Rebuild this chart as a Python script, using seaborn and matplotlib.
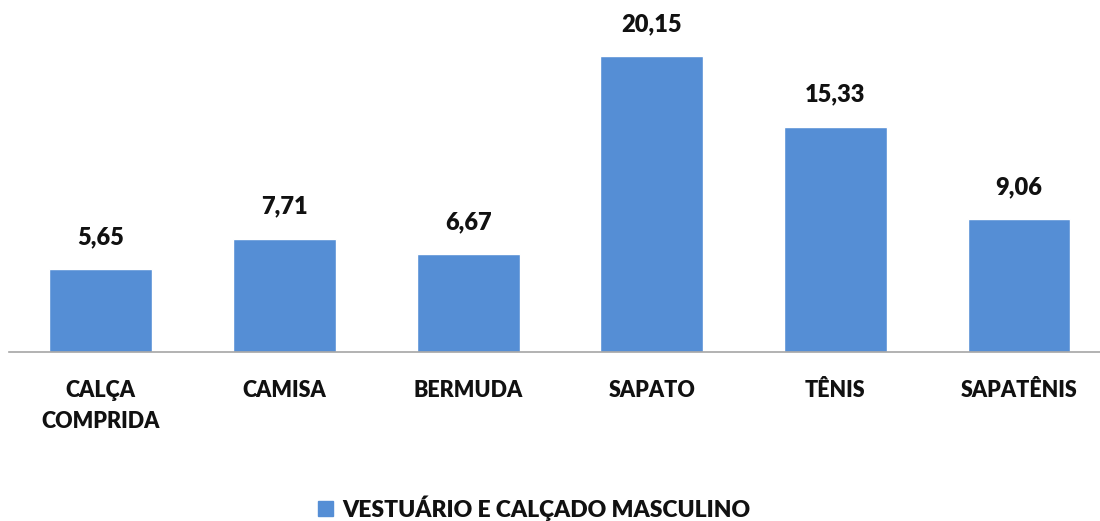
import matplotlib
matplotlib.use("Agg")
import matplotlib.pyplot as plt
import seaborn as sns
import pandas as pd
from matplotlib.patches import Patch

categories = ["CALÇA\nCOMPRIDA", "CAMISA", "BERMUDA", "SAPATO", "TÊNIS", "SAPATÊNIS"]
values = [5.65, 7.71, 6.67, 20.15, 15.33, 9.06]
series_name = "VESTUÁRIO E CALÇADO MASCULINO"

sns.set_theme(style="white")
plt.rcParams['font.family'] = ['Lato', 'DejaVu Sans']

df = pd.DataFrame({"cat": categories, "val": values})
color = "#558ED5"
txt = "#111111"

fig = plt.figure(figsize=(11, 5.21), dpi=100)
ax = fig.add_axes([9/1100, (521-352)/521, 1091/1100, 352/521])
sns.barplot(data=df, x="cat", y="val", color=color, width=0.56, ax=ax, saturation=1)

ax.set_xlim(-0.5, 5.441)
ax.set_ylim(0, 23.96)
for s in ["top", "right", "left"]:
    ax.spines[s].set_visible(False)
ax.spines["bottom"].set_color("#A6A6A6")
ax.spines["bottom"].set_linewidth(1.2)
ax.set_yticks([])
ax.set_xlabel("")
ax.set_ylabel("")
ax.tick_params(axis="x", length=0, pad=20)
for lbl in ax.get_xticklabels():
    lbl.set_fontsize(15.5)
    lbl.set_fontweight("heavy")
    lbl.set_color(txt)
    lbl.set_linespacing(1.6)

for i, v in enumerate(values):
    ax.annotate(f"{v:.2f}".replace(".", ","), xy=(i, v), xytext=(0, 32),
                textcoords="offset pixels",
                ha="center", va="center", fontsize=17, fontweight="heavy",
                color=txt)

handles = [Patch(facecolor=color, edgecolor=color, label=series_name)]
fig.legend(handles=handles, loc="center", bbox_to_anchor=(534/1100, 1 - 508/521),
           frameon=False, prop={"size": 16.5, "weight": "heavy"},
           handlelength=0.65, handleheight=0.65, handletextpad=0.4)
for t in fig.legends[0].get_texts():
    t.set_color(txt)

fig.savefig("out.png", dpi=100)
